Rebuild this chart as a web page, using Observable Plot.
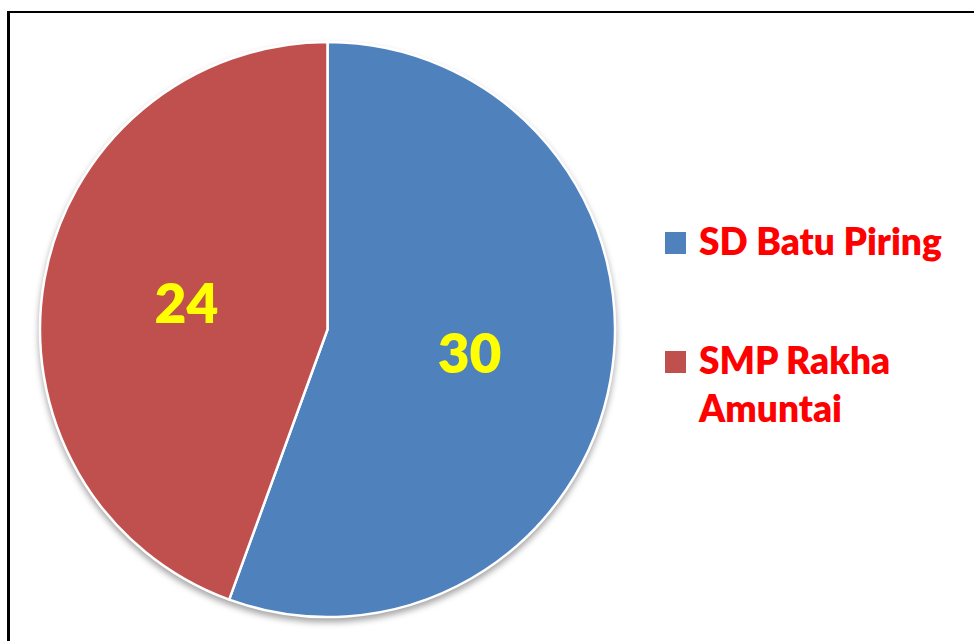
<!DOCTYPE html>
<html><head><meta charset="utf-8">
<script src="https://cdn.jsdelivr.net/npm/d3@7"></script>
<script src="https://cdn.jsdelivr.net/npm/@observablehq/plot@0.6"></script>
<style>
html,body{margin:0;padding:0;background:#fff;}
#wrap{position:relative;width:974px;height:641px;overflow:hidden;background:#fff;}
#frame{position:absolute;left:7px;top:11px;width:1000px;height:700px;border-left:3px solid #000;border-top:2px solid #000;box-sizing:border-box;}
#chart{position:absolute;left:0;top:0;}
.item{position:absolute;left:665px;font-family:Lato,"Open Sans",sans-serif;font-weight:800;color:#ff0000;font-size:37px;line-height:48px;}
.sw{position:absolute;left:0;width:21px;height:22px;}
.tx{position:absolute;left:34px;top:0;white-space:nowrap;}
</style></head>
<body><div id="wrap"><div id="frame"></div><div id="chart"></div><div id="legend"></div></div>
<script>
const categories = ["SD Batu Piring", "SMP Rakha Amuntai"];
const legendLines = [["SD Batu Piring"], ["SMP Rakha", "Amuntai"]];
const values = [30, 24];
const colors = ["#4F81BD", "#C0504D"];

const data = categories.map((c, i) => ({category: c, value: values[i]}));
const arcs = d3.pie().sort(null).value(d => d.value)(data);
const labels = arcs.map(a => {
  const mid = (a.startAngle + a.endAngle) / 2;
  return {x: 0.5 * Math.sin(mid), y: 0.5 * Math.cos(mid), text: String(a.data.value)};
});
const color = d3.scaleOrdinal(categories, colors);

function pieMark(index, scales, values, dimensions) {
  const cx = scales.x(0), cy = scales.y(0);
  const r = scales.x(1) - scales.x(0);
  const arc = d3.arc().innerRadius(0).outerRadius(r);
  const g = d3.create("svg:g")
    .attr("transform", `translate(${cx},${cy})`)
    .style("filter", "drop-shadow(0px 4px 3px rgba(0,0,0,0.35))");
  g.selectAll("path").data(arcs).join("path")
    .attr("d", arc)
    .attr("fill", d => color(d.data.category))
    .attr("stroke", "#fff")
    .attr("stroke-width", 2.5)
    .attr("stroke-linejoin", "round");
  return g.node();
}

const chart = Plot.plot({
  width: 974,
  height: 641,
  marginLeft: 40,
  marginRight: 359,
  marginTop: 42,
  marginBottom: 24,
  x: {domain: [-1, 1], axis: null},
  y: {domain: [-1, 1], axis: null},
  style: {background: "transparent"},
  marks: [
    pieMark,
    Plot.text(labels, {
      x: "x", y: "y", text: "text",
      fill: "#ffff00",
      fontSize: 55,
      fontWeight: 800,
      fontFamily: "Lato, 'Open Sans', sans-serif",
      textAnchor: "middle",
      lineAnchor: "middle"
    })
  ]
});
document.getElementById("chart").appendChild(chart);

const legendTops = [217, 336];
const legend = d3.select("#legend");
categories.forEach((c, i) => {
  const item = legend.append("div").attr("class", "item").style("top", legendTops[i] + "px");
  item.append("div").attr("class", "sw").style("background", color(c)).style("top", "15px");
  item.append("div").attr("class", "tx").html(legendLines[i].join("<br>"));
});
</script>
</body></html>
